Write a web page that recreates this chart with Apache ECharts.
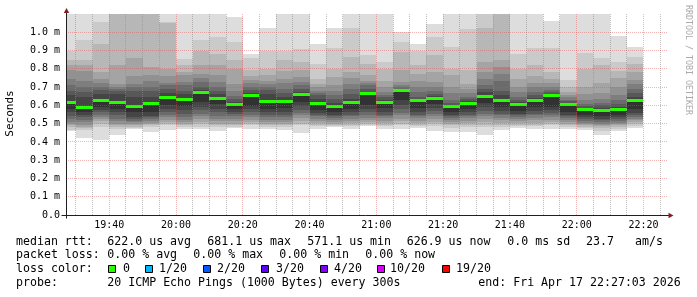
<!DOCTYPE html>
<html><head><meta charset="utf-8">
<script src="https://cdn.jsdelivr.net/npm/echarts@6/dist/echarts.min.js"></script>
<style>html,body{margin:0;padding:0;background:#fff}#c{width:697px;height:297px}</style>
</head><body><div id="c"></div>
<script>
// ---- data (milliseconds); ping01..ping20 are the sorted pings per 5-minute step, median = ping 11 ----
const colEnd = ['19:30','19:35','19:40','19:45','19:50','19:55','20:00','20:05','20:10','20:15','20:20','20:25','20:30','20:35','20:40','20:45','20:50','20:55','21:00','21:05','21:10','21:15','21:20','21:25','21:30','21:35','21:40','21:45','21:50','21:55','22:00','22:05','22:10','22:15','22:20'];
const xTickLabels = ['19:40','20:00','20:20','20:40','21:00','21:20','21:40','22:00','22:20'];
const median = [0.614,0.590,0.628,0.616,0.594,0.610,0.643,0.632,0.672,0.638,0.605,0.652,0.621,0.623,0.658,0.610,0.596,0.614,0.663,0.616,0.681,0.627,0.640,0.594,0.612,0.650,0.628,0.603,0.628,0.656,0.606,0.577,0.570,0.577,0.627];
const ping01 = [0.458,0.422,0.409,0.436,0.47,0.455,0.467,0.473,0.473,0.46,0.475,0.473,0.473,0.464,0.449,0.469,0.482,0.473,0.486,0.473,0.473,0.476,0.46,0.455,0.455,0.436,0.467,0.476,0.473,0.469,0.473,0.464,0.436,0.46,0.478];
const ping02 = [0.467,0.467,0.48,0.471,0.478,0.48,0.49,0.48,0.48,0.48,0.48,0.49,0.48,0.48,0.49,0.485,0.488,0.485,0.49,0.485,0.49,0.485,0.485,0.478,0.48,0.48,0.48,0.485,0.485,0.49,0.48,0.475,0.462,0.472,0.488];
const ping03 = [0.48,0.475,0.499,0.48,0.48,0.49,0.50,0.49,0.499,0.49,0.49,0.499,0.49,0.49,0.50,0.495,0.495,0.495,0.50,0.495,0.50,0.495,0.50,0.49,0.495,0.495,0.495,0.495,0.495,0.50,0.49,0.483,0.475,0.482,0.498];
const ping04 = [0.49,0.484,0.515,0.49,0.49,0.499,0.51,0.499,0.51,0.499,0.499,0.51,0.50,0.50,0.515,0.505,0.50,0.505,0.51,0.505,0.515,0.505,0.51,0.50,0.505,0.51,0.505,0.505,0.505,0.51,0.50,0.49,0.485,0.49,0.508];
const ping05 = [0.499,0.495,0.525,0.50,0.499,0.505,0.52,0.51,0.526,0.515,0.515,0.52,0.51,0.51,0.53,0.515,0.51,0.515,0.52,0.515,0.526,0.515,0.525,0.51,0.515,0.526,0.52,0.515,0.52,0.52,0.51,0.498,0.492,0.497,0.518];
const ping06 = [0.511,0.508,0.535,0.515,0.508,0.515,0.535,0.52,0.54,0.526,0.526,0.535,0.52,0.52,0.545,0.525,0.52,0.525,0.53,0.53,0.545,0.53,0.54,0.52,0.53,0.54,0.53,0.525,0.53,0.535,0.52,0.505,0.50,0.505,0.528];
const ping07 = [0.526,0.522,0.55,0.526,0.515,0.526,0.55,0.535,0.553,0.544,0.544,0.55,0.535,0.535,0.56,0.54,0.53,0.54,0.545,0.54,0.56,0.54,0.555,0.53,0.54,0.555,0.545,0.535,0.545,0.545,0.53,0.515,0.508,0.515,0.538];
const ping08 = [0.544,0.535,0.563,0.545,0.526,0.535,0.565,0.555,0.575,0.563,0.553,0.565,0.55,0.55,0.575,0.55,0.54,0.55,0.565,0.55,0.581,0.55,0.57,0.54,0.55,0.57,0.555,0.545,0.555,0.56,0.54,0.525,0.518,0.525,0.548];
const ping09 = [0.563,0.548,0.575,0.563,0.535,0.544,0.58,0.572,0.59,0.581,0.563,0.58,0.565,0.565,0.595,0.56,0.55,0.565,0.58,0.565,0.60,0.565,0.585,0.55,0.565,0.59,0.57,0.555,0.57,0.575,0.55,0.535,0.528,0.535,0.56];
const ping10 = [0.581,0.562,0.59,0.581,0.563,0.563,0.60,0.599,0.617,0.608,0.581,0.599,0.581,0.585,0.617,0.575,0.563,0.581,0.60,0.585,0.627,0.585,0.605,0.563,0.58,0.612,0.59,0.57,0.59,0.59,0.565,0.548,0.54,0.548,0.58];
const ping12 = [0.654,0.645,0.663,0.663,0.645,0.645,0.665,0.663,0.685,0.663,0.621,0.67,0.66,0.645,0.675,0.635,0.615,0.636,0.675,0.63,0.687,0.635,0.65,0.60,0.625,0.672,0.655,0.617,0.64,0.664,0.614,0.588,0.585,0.59,0.645];
const ping13 = [0.681,0.672,0.685,0.68,0.681,0.68,0.69,0.681,0.70,0.681,0.636,0.685,0.683,0.665,0.69,0.654,0.635,0.663,0.69,0.645,0.692,0.645,0.663,0.615,0.636,0.69,0.681,0.63,0.654,0.672,0.622,0.598,0.60,0.61,0.665];
const ping14 = [0.709,0.70,0.70,0.69,0.70,0.70,0.71,0.709,0.727,0.70,0.65,0.70,0.70,0.69,0.709,0.665,0.654,0.69,0.709,0.655,0.70,0.672,0.68,0.627,0.645,0.714,0.736,0.647,0.675,0.685,0.63,0.61,0.615,0.63,0.69];
const ping15 = [0.746,0.736,0.72,0.70,0.718,0.736,0.725,0.73,0.75,0.727,0.68,0.72,0.715,0.72,0.73,0.681,0.68,0.718,0.72,0.672,0.712,0.70,0.70,0.665,0.665,0.745,0.77,0.672,0.70,0.70,0.645,0.628,0.636,0.656,0.715];
const ping16 = [0.791,0.786,0.746,0.718,0.76,0.765,0.76,0.764,0.773,0.764,0.718,0.738,0.736,0.745,0.755,0.70,0.709,0.75,0.736,0.70,0.727,0.736,0.727,0.70,0.69,0.783,0.81,0.70,0.725,0.72,0.655,0.66,0.67,0.70,0.738];
const ping17 = [0.819,0.82,0.782,0.819,0.857,0.81,0.80,0.782,0.819,0.819,0.80,0.76,0.765,0.79,0.795,0.718,0.755,0.782,0.764,0.736,0.791,0.773,0.782,0.764,0.718,0.838,0.85,0.747,0.76,0.746,0.672,0.70,0.72,0.75,0.785];
const ping18 = [0.846,0.848,0.937,1.12,1.12,1.12,1.05,0.82,0.90,0.883,0.846,0.793,0.80,0.846,0.84,0.746,0.80,0.864,0.828,0.80,0.892,0.819,0.874,0.80,0.792,1.023,1.12,0.80,0.82,0.783,0.70,0.80,0.82,0.79,0.825];
const ping19 = [0.895,0.956,1.056,1.16,1.16,1.16,1.058,0.855,0.956,0.974,0.947,0.86,0.90,0.90,0.91,0.828,0.914,1.023,0.874,0.837,0.947,0.90,0.974,0.92,1.02,1.15,1.16,0.88,0.915,0.915,0.737,0.885,0.86,0.838,0.865];
const ping20 = [1.15,1.15,1.15,1.2,1.2,1.2,1.2,1.2,1.2,1.2,1.085,0.881,1.022,1.15,1.15,0.937,1.023,1.15,1.15,1.15,1.0,0.937,1.047,1.15,1.15,1.2,1.2,1.15,1.15,1.062,1.15,1.15,1.15,0.98,0.919];
const lossLabels = ['0','1/20','2/20','3/20','4/20','10/20','19/20'];
const lossColors = ['#26ff00','#00b8ff','#0059ff','#5e00ff','#7e00ff','#dd00ff','#ff0000'];

// ---- setup ----
const pings = [ping01,ping02,ping03,ping04,ping05,ping06,ping07,ping08,ping09,ping10,median,ping12,ping13,ping14,ping15,ping16,ping17,ping18,ping19,ping20];
const grays = ['#dddddd','#cacaca','#b7b7b7','#a4a4a4','#919191','#7e7e7e','#6b6b6b','#585858','#454545','#323232'];
const STEP = 300;
function toSec(s){const p=s.split(':').map(Number);return p[0]*3600+p[1]*60+(p[2]||0);}
function fmt(v){const h=Math.floor(v/3600),m=Math.floor((v%3600)/60);return String(h).padStart(2,'0')+':'+String(m).padStart(2,'0');}
const xMin = toSec('19:27:03'), xMax = toSec('22:27:03');
const majorSecs = xTickLabels.map(toSec);
const MONO = 'DejaVu Sans Mono';
const MGRID = 'rgba(222,79,79,0.42)', GRID = 'rgba(143,143,143,0.6)';

const gridLines = [];
for (let t = toSec('19:30'); t <= xMax; t += STEP) gridLines.push({dir:'v', v:t, major: majorSecs.indexOf(t) >= 0});
for (let i = 1; i <= 10; i++) gridLines.push({dir:'h', v:i/10, major:true});

const chart = echarts.init(document.getElementById('c'), null, {renderer:'canvas'});

function clipR(r, cs){
  return echarts.graphic.clipRectByRect(r, {x:cs.x, y:cs.y, width:cs.width, height:cs.height});
}
function renderSmoke(params, api){
  const k = params.dataIndex;
  const t1 = api.value(0), t0 = t1 - STEP;
  const cs = params.coordSys;
  const children = [];
  for (let i = 0; i < 10; i++){
    const lo = pings[i][k], hi = pings[19 - i][k];
    const a = api.coord([t0, hi]), b = api.coord([t1, lo]);
    const x0 = Math.round(a[0]), x1 = Math.round(b[0]);
    const y0 = Math.round(a[1]), y1 = Math.round(b[1]);
    const r = clipR({x:x0, y:y0, width:x1 - x0, height:y1 - y0}, cs);
    if (r) children.push({type:'rect', shape:r, style:{fill:grays[i]}, silent:true});
  }
  const m0 = api.coord([t0, median[k]]), m1 = api.coord([t1, median[k]]);
  const mx0 = Math.round(m0[0]), mx1 = Math.round(m1[0]);
  const my = Math.round(m0[1] - 1.5);
  const rm = clipR({x:mx0, y:my, width:mx1 - mx0, height:3}, cs);
  if (rm) children.push({type:'rect', shape:rm, style:{fill:lossColors[0]}, silent:true});
  return {type:'group', children};
}
function renderGrid(params, api){
  const g = gridLines[params.dataIndex];
  const cs = params.coordSys;
  let shape;
  if (g.dir === 'v'){
    const x = Math.floor(api.coord([g.v, 0])[0]) + 0.5;
    shape = {x1:x, y1:cs.y, x2:x, y2:cs.y + cs.height};
  } else {
    const y = Math.floor(api.coord([xMin, g.v])[1]) + 0.5;
    shape = {x1:cs.x, y1:y, x2:cs.x + cs.width, y2:y};
  }
  return {type:'line', shape, silent:true, style:{stroke: g.major ? MGRID : GRID, lineWidth:1, lineDash:[1,1]}};
}

const option = {
  animation: false,
  backgroundColor: '#ffffff',
  grid: {left:66, top:14, width:601, height:201, containLabel:false},
  xAxis: {
    type:'value', min:xMin, max:xMax,
    axisLine:{show:false}, axisTick:{show:false}, splitLine:{show:false},
    axisLabel:{customValues: majorSecs, formatter: v => fmt(v), fontFamily:MONO, fontSize:10, color:'#000', margin:5}
  },
  yAxis: {
    type:'value', min:0, max:1.1, interval:0.1,
    axisLine:{show:false}, axisTick:{show:false}, splitLine:{show:false},
    axisLabel:{formatter: v => v > 1.05 ? '' : (v < 0.001 ? '0.0' : v.toFixed(1) + ' m'), fontFamily:MONO, fontSize:10, color:'#000', margin:6}
  },
  series: [
    {type:'custom', name:'smoke', z:2, renderItem: renderSmoke, encode:{x:0, y:1},
     data: colEnd.map((t, k) => [toSec(t), median[k]])},
    {type:'custom', name:'grid', z:3, renderItem: renderGrid, encode:{x:0, y:1},
     data: gridLines.map(g => g.dir === 'v' ? [g.v, 0] : [xMin, g.v])}
  ]
};
chart.setOption(option);

// axes, arrows, texts
const p0 = chart.convertToPixel({gridIndex:0}, [xMin, 0]);
const pTop = chart.convertToPixel({gridIndex:0}, [xMin, 1.1]);
const pEnd = chart.convertToPixel({gridIndex:0}, [xMax, 0]);
const ax = Math.round(p0[0]) + 0.5, ay = Math.round(p0[1]) + 0.5;
const AXIS = '#1f1f1f', ARROW = '#801f1f';
const T = (x, y, text, extra) => Object.assign({type:'text', x, y, z:10, silent:true,
  style:Object.assign({text, fill:'#000', font:'11.6px "' + MONO + '"', verticalAlign:'middle', align:'left'}, extra || {})});
const graphics = [
  {type:'line', z:10, silent:true, shape:{x1:ax - 5, y1:ay, x2:pEnd[0] + 2, y2:ay}, style:{stroke:AXIS, lineWidth:1}},
  {type:'line', z:10, silent:true, shape:{x1:ax, y1:ay + 3, x2:ax, y2:pTop[1] - 2}, style:{stroke:AXIS, lineWidth:1}},
  {type:'polygon', z:11, silent:true, shape:{points:[[ax, pTop[1] - 6], [ax - 2.7, pTop[1] - 1], [ax + 2.7, pTop[1] - 1]]}, style:{fill:ARROW}},
  {type:'polygon', z:11, silent:true, shape:{points:[[pEnd[0] + 6.5, ay], [pEnd[0] + 1.5, ay - 2.8], [pEnd[0] + 1.5, ay + 2.8]]}, style:{fill:ARROW}},
  T(10, 113.5, 'Seconds', {align:'center', font:'11px "' + MONO + '"'}),
  T(688, 60, 'RRDTOOL / TOBI OETIKER', {align:'center', fill:'#aaaaaa', font:'8.3px "' + MONO + '"'}),
  T(16, 241.7, 'median rtt:'), T(107.3, 241.7, '622.0 us avg'), T(207.3, 241.7, '681.1 us max'),
  T(307.3, 241.7, '571.1 us min'), T(406.7, 241.7, '626.9 us now'), T(507.3, 241.7, '0.0 ms sd'),
  T(586, 241.7, '23.7'), T(635, 241.7, 'am/s'),
  T(16, 255, 'packet loss:'), T(107.3, 255, '0.00 % avg'), T(193.3, 255, '0.00 % max'),
  T(279.3, 255, '0.00 % min'), T(365.3, 255, '0.00 % now'),
  T(16, 269, 'loss color:'),
  T(16, 282.7, 'probe:'), T(107.3, 282.7, '20 ICMP Echo Pings (1000 Bytes) every 300s'),
  T(478.3, 282.7, 'end: Fri Apr 17 22:27:03 2026')
];
graphics[4].rotation = Math.PI / 2;
graphics[5].rotation = -Math.PI / 2;
const sqX = [108.5, 145.5, 203.5, 261.5, 320.5, 377.5, 442.5];
const lbX = [123, 159, 217, 276, 334, 390, 456];
lossLabels.forEach((l, i) => {
  graphics.push({type:'rect', z:10, silent:true, shape:{x:sqX[i], y:265.5, width:7, height:7}, style:{fill:lossColors[i], stroke:'#000', lineWidth:1}});
  graphics.push(T(lbX[i], 269, l));
});
chart.setOption({graphic: graphics});
</script>
</body></html>
